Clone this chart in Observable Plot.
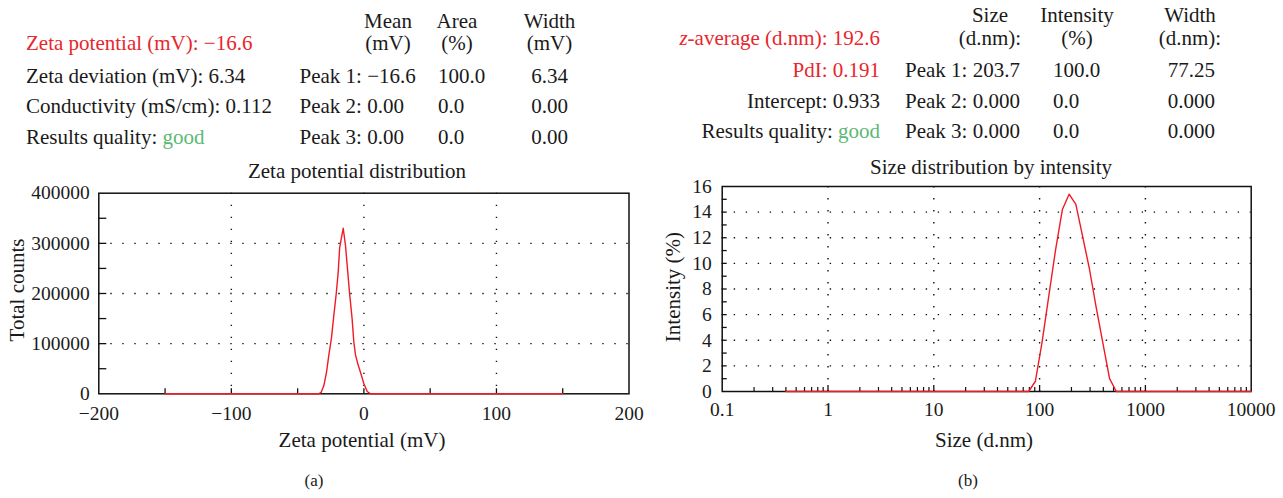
<!DOCTYPE html>
<html><head><meta charset="utf-8">
<script src="https://cdn.jsdelivr.net/npm/d3@7"></script>
<script src="https://cdn.jsdelivr.net/npm/@observablehq/plot@0.6"></script>
<style>
html,body{margin:0;padding:0;background:#fff;}
#page{position:relative;width:1283px;height:498px;overflow:hidden;font-family:"Liberation Serif",serif;}
#page svg{position:absolute;overflow:visible;}
</style></head><body><div id="page"></div>
<script>
// ---------- data: zeta potential distribution ----------
const zetaMv = [-150, -34.0, -32.2, -30.2, -28.2, -26.5, -24.4, -22.7, -20.9, -19.4, -18.3, -17.1, -15.6, -13.9, -12.6, -10.9, -8.9, -7.6, -6.3, -4.6, -2.6, 0.0, 2.5, 5.0, 150];
const zetaCounts = [0, 0, 3200, 16500, 43000, 76000, 113000, 156000, 199000, 242000, 291000, 309000, 330000, 296000, 256000, 203000, 150000, 103000, 77000, 60000, 43000, 20000, 4600, 0, 0];
const zetaXTicks = [-200, -100, 0, 100, 200];
const zetaYTicks = [0, 100000, 200000, 300000, 400000];
const zetaGridX = [-100, 0, 100];
const zetaGridY = [100000, 200000, 300000];
const zetaMinorX = [-150, -100, -50, 0, 50, 100, 150];
const zetaMinorY = [50000, 100000, 150000, 200000, 250000, 300000, 350000];

// ---------- data: size distribution by intensity ----------
const sizeNm = [0.4, 78.82, 91.28, 105.7, 122.4, 141.8, 164.2, 190.1, 220.2, 255.0, 295.3, 342.0, 396.1, 458.7, 531.2, 10000];
const sizeIntensity = [0, 0, 0.8, 3.9, 7.5, 11.1, 14.2, 15.4, 14.6, 12.1, 9.6, 6.6, 3.8, 1.0, 0, 0];
const sizeXTicks = [0.1, 1, 10, 100, 1000, 10000];
const sizeXTickLabels = ["0.1", "1", "10", "100", "1000", "10000"];
const sizeYTicks = [0, 2, 4, 6, 8, 10, 12, 14, 16];
const sizeGridX = [1, 10, 100, 1000];
const sizeGridY = [2, 4, 6, 8, 10, 12, 14];
const sizeMinorY = [1, 2, 3, 4, 5, 6, 7, 8, 9, 10, 11, 12, 13, 14, 15];
const sizeDecades = [0.1, 1, 10, 100, 1000];
const sizeMultiples = [2, 3, 4, 5, 6, 7, 8, 9];

// ---------- data: summary tables ----------
const zetaInfoLabels = ["Zeta potential (mV): −16.6", "Zeta deviation (mV): 6.34", "Conductivity (mS/cm): 0.112", "Results quality: "];
const zetaHeaders = [["Mean", "(mV)"], ["Area", "(%)"], ["Width", "(mV)"]];
const peakNames = ["Peak 1", "Peak 2", "Peak 3"];
const zetaPeakMean = ["−16.6", "0.00", "0.00"];
const zetaPeakArea = ["100.0", "0.0", "0.0"];
const zetaPeakWidth = ["6.34", "0.00", "0.00"];
const sizeInfoLabels = ["-average (d.nm): 192.6", "PdI: 0.191", "Intercept: 0.933", "Results quality: "];
const sizeHeaders = [["Size", "(d.nm):"], ["Intensity", "(%)"], ["Width", "(d.nm):"]];
const sizePeakSize = ["203.7", "0.000", "0.000"];
const sizePeakIntensity = ["100.0", "0.0", "0.0"];
const sizePeakWidth = ["77.25", "0.000", "0.000"];
const qualityWord = "good";

const RED = "#e8262c", GREEN = "#5cb874", INK = "#1a1a1a", LINE = "#ee1c24";
const FONT = "Liberation Serif, Times New Roman, serif";
const TABLE_SIZE = 21, TITLE_SIZE = 21;
const page = document.getElementById("page");

function place(el, left, top) { el.style.left = left + "px"; el.style.top = top + "px"; page.appendChild(el); }

// ---------- left chart ----------
{
  const W = 640, H = 300, mL = 98.3, mR = 11.5, mT = 32.7, mB = 66.7;
  const fw = W - mL - mR, fh = H - mT - mB;
  const data = zetaMv.map((x, i) => ({x, y: zetaCounts[i]}));
  const chart = Plot.plot({
    width: W, height: H, marginLeft: mL, marginRight: mR, marginTop: mT, marginBottom: mB,
    style: {fontFamily: FONT, fontSize: "19.5px", color: INK, background: "transparent"},
    x: {domain: [-200, 200], label: null},
    y: {domain: [0, 400000], label: null},
    marks: [
      Plot.ruleX(zetaGridX, {x: d => d, stroke: "#111", strokeWidth: 1.4, strokeDasharray: "1.4 10.6", strokeDashoffset: -12}),
      Plot.ruleY(zetaGridY, {y: d => d, stroke: "#111", strokeWidth: 1.4, strokeDasharray: "1.4 10.6", strokeDashoffset: -12}),
      Plot.tickX(zetaMinorX, {x: d => d, insetTop: fh - 5, stroke: "#111", strokeWidth: 1.3}),
      Plot.tickY(zetaMinorY, {y: d => d, insetRight: fw - 8, stroke: "#111", strokeWidth: 1.3}),
      Plot.axisX(zetaXTicks, {tickSize: 0, tickPadding: 12, tickFormat: d3.format("d"), label: null, fill: INK}),
      Plot.axisY(zetaYTicks, {tickSize: 0, tickPadding: 9, tickFormat: d => String(d), label: null, fill: INK}),
      Plot.frame({stroke: "#111", strokeWidth: 1.5}),
      Plot.line(data, {x: "x", y: "y", stroke: LINE, strokeWidth: 1.4})
    ]
  });
  place(chart, 0, 160);
}

// ---------- right chart ----------
{
  const W = 643, H = 310, mL = 81.7, mR = 32.3, mT = 36, mB = 69;
  const fw = W - mL - mR, fh = H - mT - mB;
  const data = sizeNm.map((x, i) => ({x, y: sizeIntensity[i]}));
  const minorX = sizeDecades.flatMap(d => sizeMultiples.map(m => d * m));
  const chart = Plot.plot({
    width: W, height: H, marginLeft: mL, marginRight: mR, marginTop: mT, marginBottom: mB,
    style: {fontFamily: FONT, fontSize: "19.5px", color: INK, background: "transparent"},
    x: {type: "log", domain: [0.1, 10000], label: null},
    y: {domain: [0, 16], label: null},
    marks: [
      Plot.ruleX(sizeGridX, {x: d => d, stroke: "#111", strokeWidth: 1.4, strokeDasharray: "1.4 10.6", strokeDashoffset: -12}),
      Plot.ruleY(sizeGridY, {y: d => d, stroke: "#111", strokeWidth: 1.4, strokeDasharray: "1.4 10.6", strokeDashoffset: -12}),
      Plot.tickX(minorX, {x: d => d, insetTop: fh - 4, stroke: "#111", strokeWidth: 1.2}),
      Plot.tickX(sizeGridX, {x: d => d, insetTop: fh - 6, stroke: "#111", strokeWidth: 1.3}),
      Plot.tickY(sizeMinorY, {y: d => d, insetRight: fw - 5, stroke: "#111", strokeWidth: 1.3}),
      Plot.axisX(sizeXTicks, {tickSize: 0, tickPadding: 11, tickFormat: d => sizeXTickLabels[sizeXTicks.indexOf(d)], label: null, fill: INK}),
      Plot.axisY(sizeYTicks, {tickSize: 0, tickPadding: 10.5, tickFormat: d => String(d), label: null, fill: INK}),
      Plot.frame({stroke: "#111", strokeWidth: 1.5}),
      Plot.line(data, {x: "x", y: "y", stroke: LINE, strokeWidth: 1.4})
    ]
  });
  place(chart, 640, 150);
}

// ---------- text overlay (tables, titles, captions) ----------
const svg = d3.select(page).append("svg")
  .attr("width", 1283).attr("height", 498)
  .style("left", "0px").style("top", "0px")
  .attr("font-family", FONT).attr("fill", INK);

function txt(x, y, s, o = {}) {
  const t = svg.append("text").attr("x", x).attr("y", y)
    .attr("text-anchor", o.anchor || "start")
    .attr("font-size", o.size || TABLE_SIZE)
    .attr("fill", o.fill || INK)
    .text(s);
  if (o.rotate) t.attr("transform", `rotate(-90 ${x} ${y})`);
  return t;
}

// left table
const zBase = [50, 82.7, 113.3, 144];
zetaInfoLabels.forEach((s, i) => {
  const t = txt(26, zBase[i], s, {fill: i === 0 ? RED : INK});
  if (i === 3) t.append("tspan").attr("fill", GREEN).text(qualityWord);
});
const zHeadX = [388, 457, 549.5];
zetaHeaders.forEach((h, i) => { txt(zHeadX[i], 28.3, h[0], {anchor: "middle"}); txt(zHeadX[i], 50, h[1], {anchor: "middle"}); });
peakNames.forEach((p, i) => {
  const y = zBase[i + 1];
  txt(299.5, y, p + ": " + zetaPeakMean[i]);
  txt(438, y, zetaPeakArea[i]);
  txt(549.5, y, zetaPeakWidth[i], {anchor: "middle"});
});

// right table
const sBase = [45, 77.3, 108.3, 138.3];
sizeInfoLabels.forEach((s, i) => {
  const t = svg.append("text").attr("x", 880).attr("y", sBase[i]).attr("text-anchor", "end")
    .attr("font-size", TABLE_SIZE).attr("fill", i < 2 ? RED : INK);
  if (i === 0) t.append("tspan").attr("font-style", "italic").text("z");
  t.append("tspan").text(s);
  if (i === 3) t.append("tspan").attr("fill", GREEN).text(qualityWord);
});
const sHeadX = [990, 1077, 1190];
sizeHeaders.forEach((h, i) => { txt(sHeadX[i], 21.7, h[0], {anchor: "middle"}); txt(sHeadX[i], 45, h[1], {anchor: "middle"}); });
peakNames.forEach((p, i) => {
  const y = sBase[i + 1];
  txt(905, y, p + ": " + sizePeakSize[i]);
  txt(1053, y, sizePeakIntensity[i]);
  txt(1215, y, sizePeakWidth[i], {anchor: "end"});
});

// chart titles and axis titles
txt(357, 178.3, "Zeta potential distribution", {anchor: "middle", size: TITLE_SIZE});
txt(991, 174, "Size distribution by intensity", {anchor: "middle", size: TITLE_SIZE});
txt(362, 447, "Zeta potential (mV)", {anchor: "middle", size: TITLE_SIZE});
txt(984, 447, "Size (d.nm)", {anchor: "middle", size: TITLE_SIZE});
txt(23.5, 290, "Total counts", {anchor: "middle", rotate: true, size: TITLE_SIZE});
txt(680, 287, "Intensity (%)", {anchor: "middle", rotate: true, size: TITLE_SIZE});
txt(314, 486, "(a)", {anchor: "middle", size: 17});
txt(968, 486, "(b)", {anchor: "middle", size: 17});
</script></body></html>
